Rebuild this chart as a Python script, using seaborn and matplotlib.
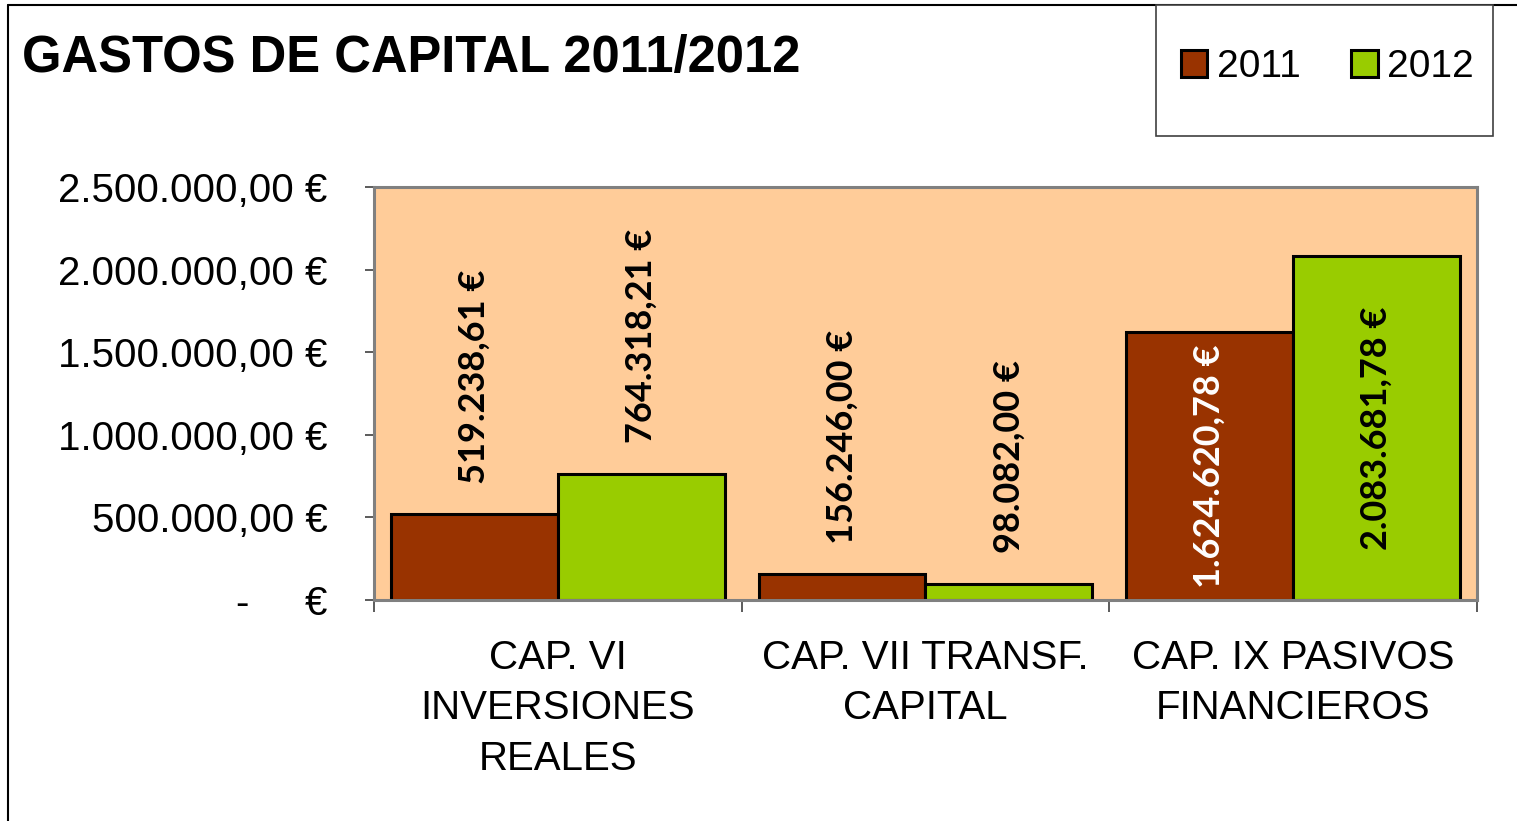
import matplotlib
matplotlib.use("Agg")
import matplotlib.pyplot as plt
from matplotlib.patches import Rectangle, Patch
from matplotlib.lines import Line2D
import seaborn as sns
import pandas as pd

categories = ["CAP. VI\nINVERSIONES\nREALES", "CAP. VII TRANSF.\nCAPITAL", "CAP. IX PASIVOS\nFINANCIEROS"]
years = ["2011", "2012"]
values_2011 = [519238.61, 156246.00, 1624620.78]
values_2012 = [764318.21, 98082.00, 2083681.78]
yticks = [0, 500000, 1000000, 1500000, 2000000, 2500000]
title = "GASTOS DE CAPITAL 2011/2012"

colors = ["#993300", "#99CC00"]

df = pd.DataFrame({
    "cat": categories * 2,
    "year": [years[0]] * 3 + [years[1]] * 3,
    "value": values_2011 + values_2012,
})

def es_fmt(v, dec=2):
    s = f"{v:,.{dec}f}"
    s = s.replace(",", "X").replace(".", ",").replace("X", ".")
    return s + " €"

sns.set_theme(style="white")
plt.rcParams["font.family"] = ["Liberation Sans", "DejaVu Sans"]
plt.rcParams["text.color"] = "black"
plt.rcParams["xtick.labelcolor"] = "black"
plt.rcParams["ytick.labelcolor"] = "black"
plt.rcParams["axes.labelcolor"] = "black"

W, H = 1517, 821
fig = plt.figure(figsize=(W / 100, H / 100), dpi=100)
ax = fig.add_axes([374 / W, 1 - 600 / H, (1477 - 374) / W, (600 - 187) / H])
ax.set_facecolor("#FFCC99")

sns.barplot(data=df, x="cat", y="value", hue="year", palette=colors,
            edgecolor="black", linewidth=2.2, width=0.908, gap=0,
            ax=ax, legend=False, saturation=1)

ax.set_xlim(-0.5, 2.5)
ax.set_ylim(0, 2500000)
ax.set_xlabel("")
ax.set_ylabel("")
ax.set_yticks(yticks)
ax.set_yticklabels(["-     €"] + [es_fmt(v) for v in yticks[1:]], fontsize=29)
ax.tick_params(axis="y", direction="out", length=6.5, width=1.2, color="#404040",
               pad=27, left=True, labelcolor="black")
ax.set_xticks([0, 1, 2])
ax.set_xticklabels(categories, fontsize=29, linespacing=1.42)
ax.tick_params(axis="x", length=0, pad=28, labelcolor="black")
ax.set_xticks([-0.5, 0.5, 1.5, 2.5], minor=True)
ax.tick_params(axis="x", which="minor", direction="out", length=8.5, width=1.2,
               color="#404040", bottom=True)
for sp in ax.spines.values():
    sp.set_color("#808080")
    sp.set_linewidth(2.2)
ax.grid(False)

# data labels
for ci, cont in enumerate(ax.containers):
    vals = values_2011 if ci == 0 else values_2012
    for bar, v in zip(cont, vals):
        xc = bar.get_x() + bar.get_width() / 2
        h = bar.get_height()
        if v > 1000000:
            ax.text(xc, h / 2, es_fmt(v), rotation=90, ha="center", va="center",
                    fontsize=26, fontweight="bold", family="Lato",
                    color="white" if ci == 0 else "black")
        else:
            ax.annotate(es_fmt(v), xy=(xc, h), xytext=(0, 22),
                        textcoords="offset points", rotation=90,
                        ha="center", va="bottom", fontsize=26,
                        fontweight="bold", family="Lato", color="black")

# title
fig.text(22 / W, 1 - 72 / H, title, fontsize=36.5, fontweight="bold",
         ha="left", va="baseline", color="black")

# outer frame lines
fig.add_artist(Line2D([8 / W, 1.0], [1 - 5 / H, 1 - 5 / H], color="black", lw=1.5,
                      transform=fig.transFigure))
fig.add_artist(Line2D([8 / W, 8 / W], [0, 1 - 5 / H], color="black", lw=1.5,
                      transform=fig.transFigure))

# legend box
fig.add_artist(Rectangle((1156 / W, 1 - 136 / H), (1493 - 1156) / W, (136 - 5) / H,
                         transform=fig.transFigure, facecolor="white",
                         edgecolor="#404040", lw=1.2, zorder=2))
handles = [Patch(facecolor=c, edgecolor="black", lw=2.2) for c in colors]
leg = fig.legend(handles, years, loc="center",
                 bbox_to_anchor=((1156 + 1493) / 2 / W + 0.002, 1 - 67 / H),
                 ncol=2, frameon=False, fontsize=28, handlelength=0.68,
                 handleheight=0.68, handletextpad=0.25, columnspacing=1.3)
for t in leg.get_texts():
    t.set_color("black")
leg.set_zorder(3)

fig.savefig("out.png", dpi=100)
